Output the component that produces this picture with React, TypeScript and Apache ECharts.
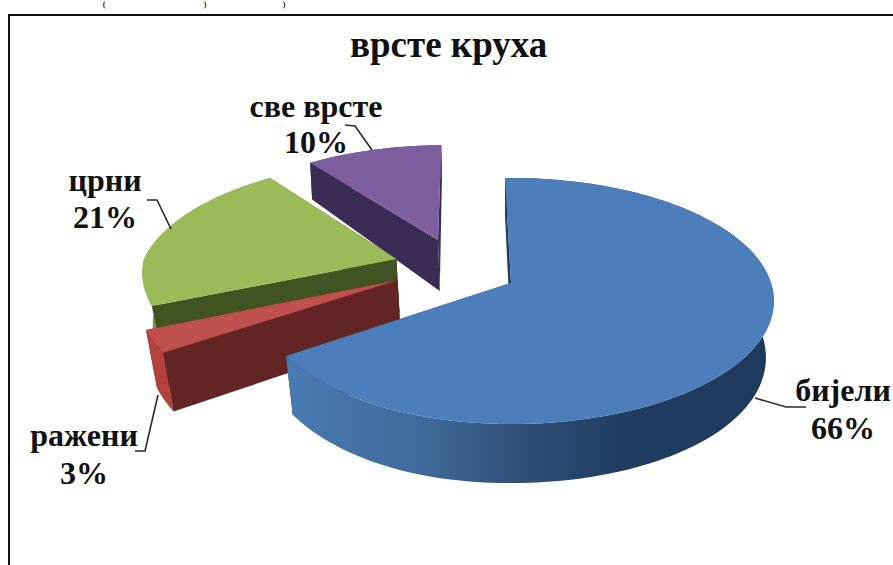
import React, { useEffect, useRef } from "react";
import * as echarts from "echarts";

// Shares of bread types, clockwise from the top of the pie
const categories = ["бијели", "ражени", "црни", "све врсте"];
const shares = [66, 3, 21, 10];
const chartTitle = "врсте круха";
const clippedCaption = ["(", ")", ")"];

const SERIF = '"Liberation Serif", "DejaVu Serif", serif';
const INK = "#111111";

// Perspective camera for the tilted disc
const CX = 511;
const CY = 283;
const R = 260;
const TILT = 0.463;
const CAMERA = 1776;
const START_DEG = -1.5;

// Explosion offset of every slice, measured in the plane of the disc
const offsets = [
  [0, 0],
  [-114, -6],
  [-118, -53.5],
  [-77, -98],
];

const blueWall = new echarts.graphic.LinearGradient(0, 0, 1, 0, [
  { offset: 0, color: "#4a7bb2" },
  { offset: 0.3, color: "#3d6796" },
  { offset: 0.48, color: "#2f4f78" },
  { offset: 0.7, color: "#203c60" },
  { offset: 1, color: "#1f3a5c" },
]);

const looks = [
  { top: "#4c7ebb", inner: "#1f3a5c", outer: blueWall },
  { top: "#c0504d", inner: "#632523", outer: "#b5413e" },
  { top: "#9bbb59", inner: "#3f5420", outer: "#76923c" },
  { top: "#7d5fa0", inner: "#3b2c56", outer: "#5d477f" },
];

// Label centres and leader lines, index-aligned with categories
const labelSpots = [
  { x: 843, y1: 390, y2: 428, leader: [[755, 398], [786, 407], [806, 407]] },
  { x: 84, y1: 435, y2: 473, leader: [[135, 451], [145, 451], [158, 395]] },
  { x: 105, y1: 180, y2: 217, leader: [[147, 200], [157, 200], [171, 229]] },
  { x: 316, y1: 106, y2: 142, leader: [[345, 125], [355, 126], [372, 150]] },
];
const captionSpots = [104, 205, 284];

const total = shares.reduce((a, b) => a + b, 0);

// Wall height shrinks toward the back of the disc
const wallHeight = (y: number) => 55.3 + 0.036 * y - 0.000083 * y * y;
// The lower rim draws in a little, less so at the far side
const bottomScale = (y: number) => 0.97 + 0.02 * Math.min(1, Math.max(0, -y / 300));

const projectTop = (x: number, y: number) => {
  const f = CAMERA / (CAMERA - y);
  return [CX + x * f, CY + y * TILT * f];
};
const projectBottom = (x: number, y: number) => {
  const [px, py] = projectTop(x, y);
  return [CX + (px - CX) * bottomScale(y), py + wallHeight(y)];
};

const rimArc = (i: number, a0: number, a1: number, project: typeof projectTop) => {
  const [ox, oy] = offsets[i];
  const steps = Math.max(2, Math.ceil((a1 - a0) / 2));
  const pts: number[][] = [];
  for (let s = 0; s <= steps; s++) {
    const t = ((a0 + ((a1 - a0) * s) / steps) * Math.PI) / 180;
    const sin = Math.sin(t);
    const cos = Math.cos(t);
    // Front-left quadrant of the disc is foreshortened slightly
    const squeeze = 1 - 0.092 * Math.max(0, -sin) * Math.max(0, -cos);
    pts.push(project(ox + R * sin * squeeze, oy - R * cos));
  }
  return pts;
};

const renderSlice = (_: unknown, api: any) => {
  const i = api.value(0);
  let before = 0;
  for (let k = 0; k < i; k++) before += shares[k];
  const a0 = START_DEG + (before / total) * 360;
  const a1 = a0 + (api.value(1) / total) * 360;
  const [ox, oy] = offsets[i];
  const apex = projectTop(ox, oy);
  const apexLow = projectBottom(ox, oy);
  const top = rimArc(i, a0, a1, projectTop);
  const low = rimArc(i, a0, a1, projectBottom);
  const look = looks[i];
  const poly = (points: number[][], fill: unknown) => ({
    type: "polygon",
    shape: { points },
    style: { fill, stroke: null },
  });
  return {
    type: "group",
    children: [
      poly([apex, top[top.length - 1], low[low.length - 1], apexLow], look.inner),
      poly([...top, ...low.slice().reverse()], look.outer),
      poly([apex, top[0], low[0], apexLow], look.inner),
      poly([apex, ...top], look.top),
    ],
  };
};

export default function App() {
  const ref = useRef<HTMLDivElement>(null);

  useEffect(() => {
    const chart = echarts.init(ref.current!, undefined, { renderer: "svg" });

    const labelTexts = categories.flatMap((name, i) => {
      const spot = labelSpots[i];
      return [
        { text: name, y: spot.y1 },
        { text: `${shares[i]}%`, y: spot.y2 },
      ].map((row) => ({
        type: "text",
        x: spot.x,
        y: row.y,
        z: 10,
        style: {
          text: row.text,
          font: `bold 32px ${SERIF}`,
          fill: INK,
          align: "center",
          verticalAlign: "middle",
        },
      }));
    });
    const leaders = labelSpots.map((spot) => ({
      type: "polyline",
      z: 9,
      shape: { points: spot.leader },
      style: { stroke: "#2a2a2a", lineWidth: 1.6, fill: "none" },
    }));
    const caption = clippedCaption.map((text, i) => ({
      type: "text",
      x: captionSpots[i],
      y: 0,
      style: {
        text,
        font: `bold 8px ${SERIF}`,
        fill: INK,
        align: "center",
        verticalAlign: "top",
      },
    }));

    chart.setOption({
      animation: false,
      backgroundColor: "#ffffff",
      title: {
        text: chartTitle,
        left: 345,
        top: 21,
        textStyle: { fontFamily: SERIF, fontWeight: "bold", fontSize: 37, color: INK },
      },
      series: [
        {
          type: "custom",
          coordinateSystem: "none",
          renderItem: renderSlice,
          // Back slices first so the nearer ones overlap them
          data: shares.map((v, i) => [i, v]).reverse(),
          silent: true,
        },
      ],
      graphic: [
        {
          type: "polyline",
          shape: { points: [[9, 565], [9, 15], [893, 15]] },
          style: { stroke: "#111111", lineWidth: 2, fill: "none" },
        },
        ...caption,
        ...leaders,
        ...labelTexts,
      ],
    });
    return () => chart.dispose();
  }, []);

  return (
    <div
      ref={ref}
      style={{ position: "fixed", left: 0, top: 0, width: 893, height: 565 }}
    />
  );
}
